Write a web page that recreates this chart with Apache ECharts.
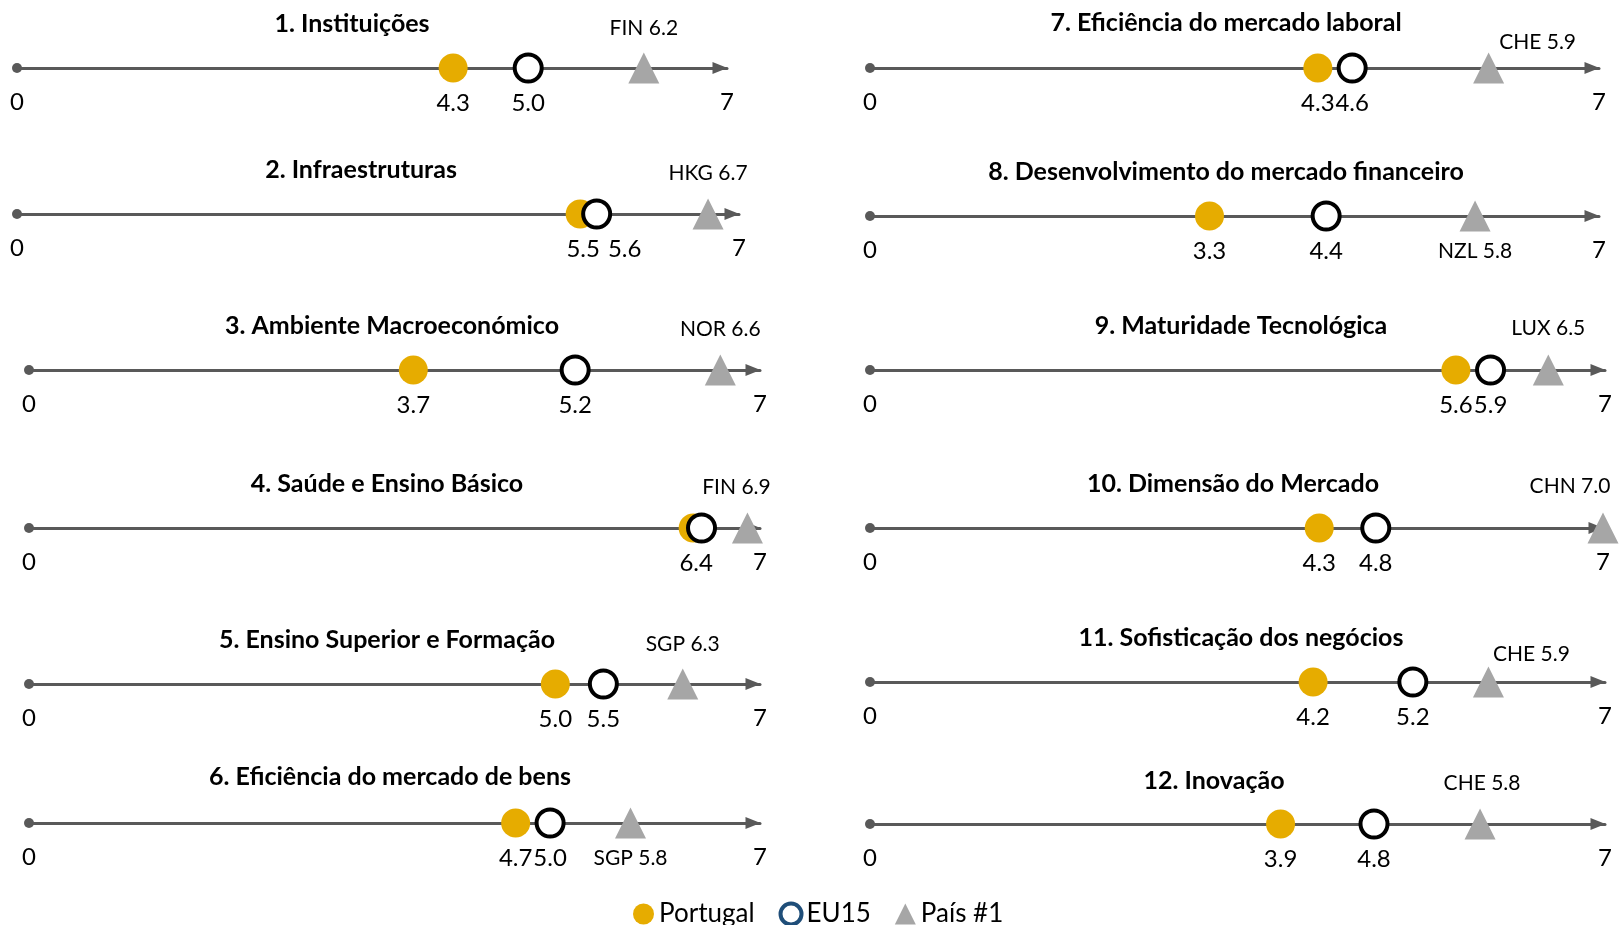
<!DOCTYPE html>
<html>
<head>
<meta charset="utf-8">
<script src="https://cdn.jsdelivr.net/npm/echarts@6/dist/echarts.min.js"></script>
<style>
html, body { margin: 0; padding: 0; background: #fff; }
#myChart { width: 1621px; height: 925px; }
</style>
</head>
<body>
<div id="myChart"></div>
<script>
// pilares: Portugal vs EU15 vs melhor país (escala 0-7)
const titulos = ['1. Instituições', '2. Infraestruturas', '3. Ambiente Macroeconómico', '4. Saúde e Ensino Básico',
  '5. Ensino Superior e Formação', '6. Eficiência do mercado de bens', '7. Eficiência do mercado laboral',
  '8. Desenvolvimento do mercado financeiro', '9. Maturidade Tecnológica', '10. Dimensão do Mercado',
  '11. Sofisticação dos negócios', '12. Inovação']
const portugal = [4.30, 5.46, 3.68, 6.36, 5.04, 4.66, 4.30, 3.26, 5.58, 4.29, 4.22, 3.91]
const eu15 = [5.04, 5.62, 5.23, 6.44, 5.50, 4.99, 4.63, 4.38, 5.91, 4.83, 5.17, 4.80]
const paisTop = [6.18, 6.70, 6.62, 6.88, 6.26, 5.76, 5.94, 5.81, 6.46, 7.00, 5.89, 5.81]
const paisCod = ['FIN', 'HKG', 'NOR', 'FIN', 'SGP', 'SGP', 'CHE', 'NZL', 'LUX', 'CHN', 'CHE', 'CHE']
const escalaMin = 0
const escalaMax = 7

// posição de cada painel (linha do eixo, título, rótulo do país)
const painel = [
  { x0: 17, x7: 727, y: 68, tx: 352, ty: 24, pais: [0, -40] },
  { x0: 17, x7: 739, y: 214, tx: 361, ty: 170, pais: [0, -41], ptDx: 3, euDx: 28 },
  { x0: 29, x7: 760, y: 370, tx: 392, ty: 326, pais: [0, -41] },
  { x0: 29, x7: 760, y: 528, tx: 387, ty: 484, pais: [-11, -41], ptDx: 3, euHide: true },
  { x0: 29, x7: 760, y: 684, tx: 387, ty: 640, pais: [0, -40] },
  { x0: 29, x7: 760, y: 823, tx: 390, ty: 777, pais: [0, 35] },
  { x0: 870, x7: 1599, y: 68, tx: 1226, ty: 23, pais: [49, -26] },
  { x0: 870, x7: 1599, y: 216, tx: 1226, ty: 172, pais: [0, 35] },
  { x0: 870, x7: 1605, y: 370, tx: 1241, ty: 326, pais: [0, -42] },
  { x0: 870, x7: 1603, y: 528, tx: 1233, ty: 484, pais: [-33, -42] },
  { x0: 870, x7: 1605, y: 682, tx: 1241, ty: 638, pais: [43, -28] },
  { x0: 870, x7: 1605, y: 824, tx: 1214, ty: 781, pais: [2, -41] }
]

const FONTE = 'Lato'
const corPT = '#E6AC00'
const corEixo = '#595959'
const corPais = '#A6A6A6'

let myChart = echarts.init(document.getElementById('myChart'))

let grid = []
let xAxis = []
let yAxis = []
let series = []
let graphic = []

painel.forEach(function (p, i) {
  // a linha do eixo fica no fundo da grelha (y = 0)
  grid.push({ left: p.x0, width: p.x7 - p.x0, top: p.y - 20, height: 20 })
  xAxis.push({
    gridIndex: i,
    type: 'value',
    min: escalaMin,
    max: escalaMax,
    interval: escalaMax - escalaMin,
    splitLine: { show: false },
    axisTick: { show: false },
    axisLine: {
      show: true,
      onZero: false,
      symbol: ['none', 'triangle'],
      symbolSize: [12, 15],
      symbolOffset: [0, -7],
      lineStyle: { color: corEixo, width: 3 }
    },
    axisLabel: { fontFamily: FONTE, fontSize: 24, color: '#000', margin: 22, showMinLabel: true, showMaxLabel: true }
  })
  yAxis.push({ gridIndex: i, type: 'value', min: 0, max: 1, show: false })

  // ponto de origem do eixo
  series.push({
    name: 'origem', type: 'scatter', xAxisIndex: i, yAxisIndex: i, silent: true, clip: false,
    symbol: 'circle', symbolSize: 10, itemStyle: { color: corEixo, opacity: 1 },
    data: [[escalaMin, 0]]
  })
  series.push({
    name: 'País #1', type: 'scatter', xAxisIndex: i, yAxisIndex: i, clip: false,
    symbol: 'triangle', symbolSize: [31, 31], itemStyle: { color: corPais, opacity: 1 },
    label: {
      show: true, position: 'inside', offset: p.pais,
      fontFamily: FONTE, fontSize: 21, color: '#000',
      formatter: function (d) { return paisCod[i] + ' ' + d.value[0].toFixed(1) }
    },
    data: [[paisTop[i], 0]]
  })
  series.push({
    name: 'Portugal', type: 'scatter', xAxisIndex: i, yAxisIndex: i, clip: false,
    symbol: 'circle', symbolSize: 29, itemStyle: { color: corPT, opacity: 1 },
    label: {
      show: true, position: 'inside', offset: [p.ptDx || 0, 35],
      fontFamily: FONTE, fontSize: 24, color: '#000',
      formatter: function (d) { return d.value[0].toFixed(1) }
    },
    data: [[portugal[i], 0]]
  })
  series.push({
    name: 'EU15', type: 'scatter', xAxisIndex: i, yAxisIndex: i, clip: false,
    symbol: 'circle', symbolSize: 27, itemStyle: { color: '#fff', borderColor: '#000', borderWidth: 4, opacity: 1 },
    label: {
      show: !p.euHide, position: 'inside', offset: [p.euDx || 0, 35],
      fontFamily: FONTE, fontSize: 24, color: '#000',
      formatter: function (d) { return d.value[0].toFixed(1) }
    },
    data: [[eu15[i], 0]]
  })
  graphic.push({
    type: 'text', x: p.tx, y: p.ty,
    style: {
      text: titulos[i], font: 'bold 25px ' + FONTE, fill: '#000',
      textAlign: 'center', textVerticalAlign: 'middle'
    }
  })
})

myChart.setOption({
  animation: false,
  grid: grid,
  xAxis: xAxis,
  yAxis: yAxis,
  graphic: graphic,
  legend: {
    left: 628,
    top: 896,
    itemWidth: 21,
    itemHeight: 21,
    itemGap: 24,
    textStyle: { fontFamily: FONTE, fontSize: 26, color: '#000' },
    data: [
      { name: 'Portugal', icon: 'circle' },
      { name: 'EU15', icon: 'circle', itemStyle: { color: '#fff', borderColor: '#1F4E79', borderWidth: 4 } },
      { name: 'País #1', icon: 'triangle' }
    ]
  },
  series: series
})
</script>
</body>
</html>
